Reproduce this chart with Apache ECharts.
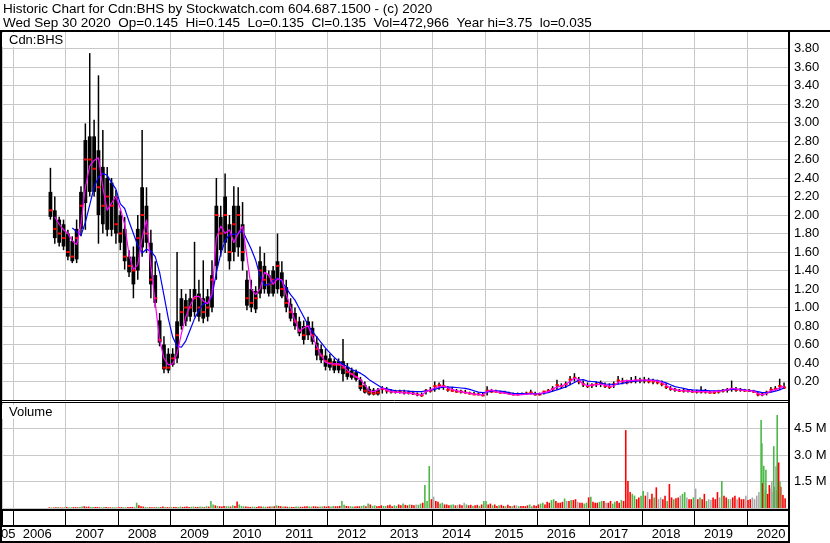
<!DOCTYPE html>
<html><head><meta charset="utf-8">
<script src="https://cdn.jsdelivr.net/npm/echarts@6/dist/echarts.min.js"></script>
<style>html,body{margin:0;padding:0;background:#fff}#c{width:830px;height:543px}</style>
</head><body><div id="c"></div>
<script>
// ---- data (monthly, Sep 2006 .. Sep 2020) ----
const firstYear = 2006, firstMonth = 9, monthCount = 169;
const highs = [
 2.51,2.20,1.98,1.95,
 1.84,1.77,1.95,2.31,2.99,3.75,3.03,3.51,2.92,2.52,2.40,2.27,
 2.05,1.98,1.62,1.66,2.00,2.92,2.30,1.84,1.50,0.94,0.69,0.56,
 0.56,1.60,1.20,1.15,1.20,1.71,1.30,1.51,1.20,1.51,2.40,2.10,
 2.45,2.00,2.31,2.30,2.14,1.40,1.30,1.23,1.66,1.59,1.40,1.45,
 1.80,1.50,1.30,1.10,1.00,0.90,0.86,0.90,0.85,0.69,0.60,0.55,
 0.50,0.45,0.45,0.66,0.40,0.35,0.33,0.25,0.20,0.15,0.13,0.13,
 0.15,0.14,0.12,0.11,0.11,0.11,0.10,0.10,0.08,0.08,0.12,0.14,
 0.20,0.19,0.22,0.15,0.14,0.12,0.11,0.11,0.09,0.09,0.08,0.08,
 0.15,0.12,0.11,0.10,0.10,0.09,0.08,0.08,0.08,0.09,0.11,0.09,
 0.08,0.10,0.12,0.15,0.22,0.18,0.20,0.26,0.29,0.25,0.21,0.19,
 0.18,0.20,0.21,0.19,0.18,0.20,0.26,0.24,0.22,0.25,0.26,0.24,
 0.25,0.24,0.23,0.22,0.21,0.18,0.15,0.13,0.12,0.13,0.12,0.11,
 0.11,0.15,0.12,0.10,0.10,0.11,0.12,0.13,0.21,0.14,0.13,0.12,
 0.12,0.11,0.09,0.08,0.10,0.14,0.15,0.23,0.19];
const lows = [
 1.95,1.69,1.66,1.62,
 1.51,1.48,1.48,1.77,1.84,2.20,2.20,1.69,1.80,1.77,1.77,1.69,
 1.62,1.41,1.33,1.10,1.30,1.55,1.59,1.10,1.00,0.58,0.29,0.29,
 0.36,0.40,0.76,0.80,0.85,0.90,0.85,0.83,0.85,0.95,1.30,1.55,
 1.59,1.41,1.50,1.55,1.40,0.97,0.95,0.94,1.10,1.15,1.12,1.12,
 1.15,1.10,0.95,0.85,0.76,0.69,0.60,0.65,0.60,0.43,0.40,0.32,
 0.32,0.29,0.29,0.20,0.22,0.22,0.20,0.10,0.07,0.05,0.05,0.05,
 0.07,0.07,0.07,0.07,0.07,0.06,0.06,0.055,0.04,0.035,0.06,0.08,
 0.09,0.11,0.11,0.09,0.09,0.08,0.07,0.07,0.06,0.055,0.05,0.04,
 0.05,0.08,0.08,0.07,0.07,0.06,0.05,0.05,0.055,0.055,0.06,0.05,
 0.05,0.06,0.08,0.09,0.11,0.12,0.13,0.16,0.20,0.17,0.14,0.13,
 0.13,0.14,0.14,0.13,0.12,0.13,0.17,0.17,0.17,0.18,0.18,0.18,
 0.18,0.18,0.17,0.17,0.15,0.12,0.10,0.09,0.09,0.08,0.08,0.08,
 0.07,0.07,0.07,0.07,0.065,0.07,0.08,0.08,0.09,0.09,0.09,0.09,
 0.09,0.08,0.04,0.04,0.05,0.08,0.10,0.11,0.12];
const closes = [
 2.05,1.85,1.80,1.75,
 1.60,1.55,1.75,2.10,2.60,2.60,2.50,2.30,2.10,2.20,2.10,1.90,
 1.80,1.55,1.45,1.40,1.75,2.00,1.80,1.30,1.10,0.65,0.35,0.35,
 0.45,0.70,0.95,1.00,1.00,1.10,1.00,0.95,1.00,1.30,2.00,1.80,
 2.00,1.60,1.90,2.00,1.60,1.10,1.05,1.10,1.40,1.30,1.25,1.30,
 1.45,1.20,1.05,0.95,0.85,0.75,0.70,0.80,0.70,0.55,0.48,0.42,
 0.40,0.38,0.38,0.35,0.30,0.28,0.25,0.15,0.10,0.08,0.07,0.08,
 0.12,0.10,0.09,0.09,0.09,0.08,0.08,0.07,0.06,0.05,0.10,0.10,
 0.15,0.16,0.15,0.11,0.10,0.09,0.09,0.08,0.07,0.06,0.06,0.05,
 0.10,0.09,0.09,0.08,0.08,0.07,0.06,0.06,0.065,0.07,0.08,0.06,
 0.06,0.09,0.10,0.12,0.16,0.15,0.17,0.22,0.24,0.20,0.17,0.15,
 0.16,0.17,0.18,0.15,0.14,0.17,0.21,0.20,0.19,0.20,0.21,0.21,
 0.21,0.20,0.20,0.19,0.17,0.14,0.12,0.11,0.10,0.10,0.10,0.09,
 0.09,0.09,0.09,0.08,0.08,0.09,0.10,0.11,0.12,0.11,0.11,0.10,
 0.10,0.09,0.06,0.06,0.08,0.11,0.12,0.15,0.135];
// range where most daily bars of the month sit (Sep 2006 .. Dec 2012)
const denseHigh = [
 2.25,2.05,1.95,1.90,
 1.80,1.72,1.85,2.25,2.81,2.85,2.85,2.70,2.52,2.40,2.35,2.20,
 2.00,1.85,1.55,1.55,1.85,2.30,2.10,1.70,1.35,0.86,0.60,0.50,
 0.50,0.85,1.10,1.08,1.10,1.20,1.15,1.10,1.12,1.35,2.10,1.98,
 2.20,1.90,2.10,2.10,1.90,1.30,1.20,1.18,1.50,1.45,1.35,1.40,
 1.50,1.38,1.22,1.04,0.94,0.85,0.80,0.85,0.78,0.62,0.55,0.48,
 0.45,0.42,0.42,0.42,0.36,0.32,0.30,0.22,0.16,0.12,0.11,0.11];
const denseLow = [
 1.98,1.75,1.70,1.66,
 1.55,1.50,1.52,1.85,2.13,2.25,2.25,2.00,1.90,1.84,1.84,1.80,
 1.70,1.50,1.38,1.25,1.40,1.65,1.70,1.25,1.05,0.62,0.33,0.32,
 0.38,0.45,0.80,0.85,0.90,0.95,0.90,0.88,0.90,1.00,1.45,1.62,
 1.70,1.50,1.60,1.65,1.50,1.02,1.00,0.98,1.15,1.20,1.15,1.15,
 1.20,1.12,1.00,0.88,0.80,0.72,0.65,0.70,0.63,0.48,0.43,0.36,
 0.35,0.32,0.32,0.28,0.25,0.24,0.22,0.12,0.08,0.06,0.06,0.06];
const maShort = [
 null,1.98,1.90,1.84,
 1.80,1.72,1.68,1.90,2.30,2.53,2.59,2.62,2.30,2.05,2.13,2.20,
 2.07,1.90,1.57,1.41,1.46,1.75,1.95,1.45,1.05,0.65,0.45,0.38,
 0.39,0.50,0.72,0.90,1.02,1.12,1.12,1.07,1.04,1.15,1.75,1.88,
 1.80,1.84,1.70,1.80,1.88,1.55,1.20,1.14,1.20,1.38,1.35,1.25,
 1.31,1.30,1.14,1.00,0.86,0.74,0.78,0.80,0.68,0.58,0.48,0.41,
 0.39,0.39,0.39,0.37,0.32,0.28,0.25,0.22,0.16,0.10,0.09,0.11,
 0.13,0.11,0.09,0.085,0.08,0.078,0.075,0.07,0.058,0.055,0.09,0.11,
 0.13,0.145,0.15,0.13,0.115,0.10,0.09,0.08,0.075,0.065,0.058,0.055,
 0.09,0.11,0.09,0.083,0.075,0.065,0.058,0.055,0.058,0.063,0.066,0.065,
 0.07,0.08,0.09,0.12,0.14,0.15,0.17,0.20,0.235,0.22,0.17,0.155,
 0.16,0.165,0.17,0.16,0.15,0.15,0.19,0.205,0.21,0.21,0.215,0.215,
 0.215,0.215,0.21,0.205,0.19,0.16,0.13,0.11,0.105,0.10,0.095,0.092,
 0.09,0.09,0.09,0.085,0.09,0.095,0.10,0.11,0.125,0.12,0.11,0.105,
 0.10,0.095,0.07,0.055,0.07,0.10,0.11,0.13,0.15];
const maLong = [
 null,null,null,null,
 null,1.86,1.82,1.78,1.92,2.11,2.30,2.41,2.45,2.43,2.35,2.28,
 2.12,2.07,1.93,1.80,1.67,1.59,1.63,1.61,1.55,1.38,1.13,0.88,
 0.68,0.58,0.57,0.64,0.76,0.88,0.97,1.04,1.05,1.12,1.38,1.58,
 1.72,1.79,1.79,1.80,1.83,1.73,1.63,1.51,1.34,1.24,1.25,1.29,
 1.32,1.28,1.21,1.14,1.08,0.99,0.90,0.81,0.74,0.68,0.62,0.56,
 0.51,0.46,0.42,0.39,0.36,0.33,0.31,0.29,0.26,0.22,0.19,0.16,
 0.13,0.12,0.11,0.10,0.10,0.10,0.095,0.09,0.09,0.09,0.10,0.105,
 0.115,0.13,0.14,0.14,0.14,0.135,0.13,0.125,0.115,0.10,0.085,0.08,
 0.085,0.095,0.10,0.095,0.09,0.08,0.072,0.07,0.07,0.07,0.07,0.068,
 0.066,0.07,0.08,0.095,0.11,0.125,0.14,0.165,0.19,0.215,0.22,0.205,
 0.20,0.195,0.185,0.173,0.17,0.168,0.17,0.18,0.19,0.20,0.205,0.21,
 0.21,0.215,0.215,0.21,0.20,0.185,0.165,0.145,0.135,0.125,0.115,0.11,
 0.108,0.105,0.105,0.10,0.10,0.10,0.105,0.11,0.115,0.115,0.115,0.11,
 0.10,0.10,0.09,0.08,0.08,0.085,0.095,0.11,0.13];
// volume in millions: two bars per month (first half A, second half B)
const volA = [
 .04,.03,.05,.03,
 .05,.04,.05,.06,.10,.08,.05,.06,.04,.05,.04,.04,
 .04,.05,.05,.06,.30,.10,.06,.05,.04,.06,.08,.05,
 .05,.06,.08,.07,.06,.08,.06,.07,.10,.40,.15,.10,
 .12,.10,.15,.37,.12,.08,.06,.07,.10,.08,.07,.09,
 .15,.10,.08,.07,.06,.08,.07,.10,.08,.09,.08,.10,
 .10,.12,.10,.40,.12,.10,.08,.10,.15,.25,.12,.10,
 .15,.12,.18,.15,.20,.25,.15,.18,.20,.25,1.30,2.38,
 .64,.35,.30,.20,.18,.15,.20,.30,.15,.12,.18,.20,
 .40,.25,.20,.15,.12,.18,.10,.15,.12,.10,.20,.15,
 .20,.30,.35,.45,.40,.30,.54,.40,.45,.35,.30,.30,
 .64,.30,.35,.40,.30,.25,.40,.45,4.41,.90,.70,.60,
 .96,.90,.80,1.17,.60,.70,1.36,.50,.60,.80,.60,.50,
 1.10,.60,.80,.50,.60,.90,1.53,.60,.50,.70,.60,.50,
 .45,.60,.70,4.98,1.00,1.10,1.20,.90,.74];
const volB = [
 .03,.04,.03,.04,
 .04,.05,.04,.08,.07,.06,.06,.04,.05,.04,.05,.03,
 .05,.04,.06,.05,.15,.08,.05,.04,.07,.05,.06,.04,
 .06,.05,.06,.08,.07,.06,.08,.05,.08,.20,.12,.08,
 .10,.08,.12,.20,.10,.07,.08,.06,.09,.07,.08,.10,
 .12,.09,.07,.06,.08,.07,.09,.08,.10,.07,.09,.08,
 .08,.10,.12,.18,.10,.09,.10,.12,.10,.20,.15,.12,
 .12,.15,.10,.12,.15,.18,.20,.15,.18,.30,.40,.50,
 .40,.25,.20,.15,.20,.18,.15,.20,.18,.15,.12,.40,
 .20,.15,.12,.18,.10,.12,.15,.10,.12,.15,.10,.12,
 .25,.20,.30,.50,.30,.35,.40,.45,.50,.30,.25,.60,
 .35,.30,.40,.30,.40,.35,.30,.40,1.53,.80,.50,.70,
 .70,.50,.60,.50,.50,.40,.60,.55,.70,.90,.50,.60,
 .50,.50,.40,.45,.50,.60,.70,.50,.60,.50,.50,.70,
 .50,.50,.90,.90,.80,.90,1.00,1.20,.55];
// r = down (red), g = up (green), n = unchanged (grey)
const volColA = ['rrgr','rgrgrrgrgrrg','rgrrgrgrrgrr','grgrrgrgggrr','rggrgrrgrgrg',
 'grrgrgrrgrgr','rgrgrgrrgggr','rgrgrgrrnggg','nrgrgrrnrgrr','grrgrrgnrrgr',
 'rgrgrrgrrnrg','grgrrgrgrrgr','gnrrnrrgrgnr','ngrnrrgrnrrr','rnnggngrr'].join('');
const volColB = ['grrg','grrgrgrrgrgr','rgrgrrgrgrgr','rgrrgrgrrggr','grrggrgrrgrr',
 'rgrrgrrgrrgr','grrgrgrgrrgr','grrgrrgrgrgr','rgrrgnrgrrgg','rgrrgrrgrrgr',
 'grrgrrngrrgr','rrgnrgrrrgrg','rrgnrgrrngrg','rrgnrnrgrnrn','rnnrrnrrr'].join('');
// extra individual heavy-volume days
const spikeDates = ['2020-04-14','2020-04-20','2020-04-27','2020-05-12','2020-06-05','2020-06-22',
 '2020-07-06','2020-07-21','2020-07-30','2020-08-09','2020-08-18'];
const spikeVols = [3.66,1.40,2.39,2.16,1.30,1.53,3.50,2.37,5.26,2.58,1.50];
const spikeCols = 'grggrngngrg';
const yearLabelFirst = 2006, yearLabelLast = 2020;

// ---- build ----
const FONT = "'Liberation Sans', Arial, sans-serif";
const COLS = {r:0, g:1, n:2};
const VOLCOLORS = ['#ff0000', '#4cb848', '#a8a8a8'];
const monthX = [], monthStart = [];
for (let i = 0; i < monthCount; i++) {
  const k = firstMonth - 1 + i;
  const y = firstYear + Math.floor(k / 12), m = k % 12;
  monthStart.push(y + m / 12);
  monthX.push(y + (m + 0.5) / 12);
}
const priceData = monthX.map((x, i) => [x, highs[i], lows[i], closes[i],
  i < denseHigh.length ? denseHigh[i] : NaN, i < denseLow.length ? denseLow[i] : NaN]);
const shortData = monthX.map((x, i) => [x, maShort[i]]).filter(d => d[1] != null);
const longData = monthX.map((x, i) => [x, maLong[i]]).filter(d => d[1] != null);
const volData = [];
for (let i = 0; i < monthCount; i++) {
  volData.push([monthStart[i] + 0.25 / 12, volA[i], COLS[volColA[i]]]);
  volData.push([monthStart[i] + 0.75 / 12, volB[i], COLS[volColB[i]]]);
}
function dateToYear(s) {
  const [y, m, d] = s.split('-').map(Number);
  const t0 = Date.UTC(y, 0, 1), t1 = Date.UTC(y + 1, 0, 1);
  return y + (Date.UTC(y, m - 1, d) + 43200000 - t0) / (t1 - t0);
}
spikeDates.forEach((s, i) => volData.push([dateToYear(s), spikeVols[i], COLS[spikeCols[i]]]));

const X_MIN = 2005.784, X_MAX = 2020.784;
function xAxisFor(gi, extra) {
  return Object.assign({
    type: 'value', gridIndex: gi, min: X_MIN, max: X_MAX, minInterval: 1, maxInterval: 1, splitNumber: 15,
    axisLine: {show: false}, axisTick: {show: false}, axisLabel: {show: false},
    splitLine: {show: true, lineStyle: {color: '#c8c8c8', width: 1}}
  }, extra || {});
}

function renderPrice(params, api) {
  const x = api.value(0);
  const top = api.coord([x, api.value(1)]);
  const bot = api.coord([x, api.value(2)]);
  const cl = api.coord([x, api.value(3)]);
  const dh = api.value(4), dl = api.value(5);
  const mw = api.size([1 / 12, 0])[0];
  const children = [
    {type: 'rect', shape: {x: top[0] - 0.75, y: top[1], width: 1.5, height: Math.max(1, bot[1] - top[1])}, style: {fill: '#000'}}
  ];
  if (!isNaN(dh) && !isNaN(dl)) {
    const a = api.coord([x, dh]), b = api.coord([x, dl]);
    const bw = mw - 0.6;
    children.push({type: 'rect', shape: {x: a[0] - bw / 2, y: a[1], width: bw, height: Math.max(1, b[1] - a[1])}, style: {fill: '#000'}});
  }
  children.push({type: 'rect', shape: {x: cl[0] - 1.5, y: cl[1] - 1, width: 3.5, height: 2}, style: {fill: '#ff0000'}});
  return {type: 'group', children};
}
function renderVol(params, api) {
  const x = api.value(0);
  const p = api.coord([x, api.value(1)]);
  const b = api.coord([x, 0]);
  return {type: 'rect', shape: {x: p[0] - 0.8, y: p[1], width: 1.6, height: b[1] - p[1]},
    style: {fill: VOLCOLORS[api.value(2)]}};
}

const frame = (x1, y1, x2, y2, w) => ({type: 'line', z: 100, silent: true,
  shape: {x1, y1, x2, y2}, style: {stroke: '#000', lineWidth: w}});

const option = {
  animation: false,
  backgroundColor: '#fff',
  grid: [
    {left: 2, width: 786, top: 30, height: 370, outerBoundsMode: 'none', containLabel: false},
    {left: 2, width: 786, top: 402, height: 106, outerBoundsMode: 'none', containLabel: false},
    {left: 2, width: 786, top: 510, height: 16, outerBoundsMode: 'none', containLabel: false}
  ],
  xAxis: [
    xAxisFor(0), xAxisFor(1),
    xAxisFor(2, {
      splitLine: {show: true, lineStyle: {color: '#000', width: 1}},
      axisLabel: {show: true, color: '#000', fontSize: 13, fontFamily: FONT, margin: 2,
        align: 'center', padding: [0, 0, 0, 48],
        formatter: v => (Math.abs(v - Math.round(v)) < 1e-6 && v >= yearLabelFirst && v <= yearLabelLast) ? String(Math.round(v)) : ''}
    })
  ],
  yAxis: [
    {type: 'value', gridIndex: 0, position: 'right', min: 0, max: 4, interval: 0.2,
     axisLine: {show: false}, axisTick: {show: false},
     splitLine: {show: true, lineStyle: {color: '#c8c8c8', width: 1}},
     axisLabel: {color: '#000', fontSize: 13, fontFamily: FONT, margin: 6, align: 'left',
       formatter: v => (v < 0.1 || v > 3.9) ? '' : v.toFixed(2)}},
    {type: 'value', gridIndex: 1, position: 'right', min: 0, max: 6, interval: 1.5,
     axisLine: {show: false}, axisTick: {show: false},
     splitLine: {show: true, lineStyle: {color: '#c8c8c8', width: 1}},
     axisLabel: {color: '#000', fontSize: 13, fontFamily: FONT, margin: 6, align: 'left',
       formatter: v => (v < 0.1 || v > 5.9) ? '' : v.toFixed(1) + ' M'}},
    {type: 'value', gridIndex: 2, min: 0, max: 1, show: false}
  ],
  series: [
    {type: 'custom', xAxisIndex: 0, yAxisIndex: 0, renderItem: renderPrice, data: priceData,
     encode: {x: 0, y: [1, 2, 3]}, clip: true, z: 2},
    {type: 'line', xAxisIndex: 0, yAxisIndex: 0, data: longData, showSymbol: false, symbol: 'none',
     lineStyle: {color: '#0000ff', width: 1.2}, z: 3},
    {type: 'line', xAxisIndex: 0, yAxisIndex: 0, data: shortData, showSymbol: false, symbol: 'none',
     lineStyle: {color: '#ff00ff', width: 1.2}, z: 4},
    {type: 'custom', xAxisIndex: 1, yAxisIndex: 1, renderItem: renderVol, data: volData,
     encode: {x: 0, y: 1}, clip: true, z: 2}
  ],
  graphic: [
    {type: 'text', x: 3, y: 9.5, z: 100, style: {text: 'Historic Chart for Cdn:BHS by Stockwatch.com 604.687.1500 - (c) 2020',
      font: '13.5px ' + FONT, fill: '#000', verticalAlign: 'middle'}},
    {type: 'text', x: 3, y: 23, z: 100, style: {text: 'Wed Sep 30 2020  Op=0.145  Hi=0.145  Lo=0.135  Cl=0.135  Vol=472,966  Year hi=3.75  lo=0.035',
      font: '13.5px ' + FONT, fill: '#000', verticalAlign: 'middle'}},
    {type: 'text', x: 2, y: 33, z: 90, style: {text: 'Cdn:BHS', font: '13px ' + FONT, fill: '#000',
      backgroundColor: '#fff', padding: [1, 2, 0, 7]}},
    {type: 'text', x: 2, y: 405, z: 90, style: {text: 'Volume', font: '13px ' + FONT, fill: '#000',
      backgroundColor: '#fff', padding: [1, 2, 0, 7]}},
    {type: 'text', x: 15.5, y: 534, z: 100, style: {text: '2005', font: '13px ' + FONT, fill: '#000',
      align: 'right', verticalAlign: 'middle'}},
    frame(0, 31, 830, 31, 2),
    frame(1, 30, 1, 543, 2),
    frame(789, 30, 789, 543, 2),
    frame(0, 400.5, 789, 400.5, 1),
    frame(0, 402.5, 789, 402.5, 1),
    frame(0, 510, 789, 510, 2),
    frame(0, 526, 789, 526, 2),
    frame(0, 542, 789, 542, 2)
  ]
};
const chart = echarts.init(document.getElementById('c'), null, {renderer: 'canvas', width: 830, height: 543});
chart.setOption(option);
</script></body></html>
